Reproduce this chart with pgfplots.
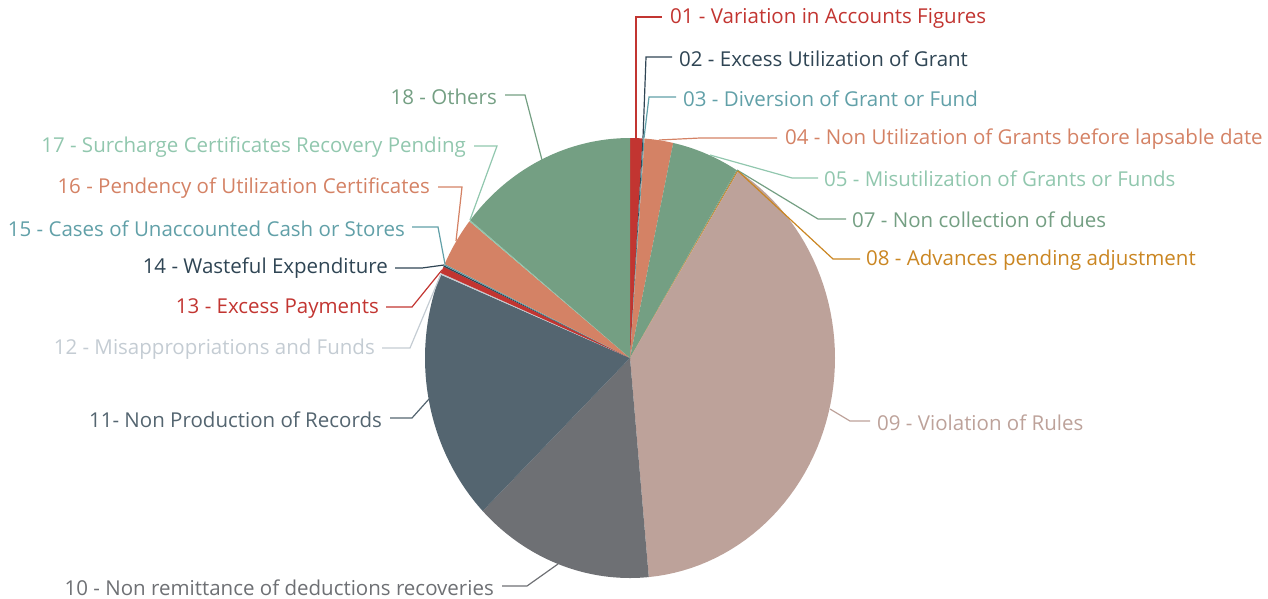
\documentclass[border=0pt]{standalone}
\usepackage{pgfplots}
\pgfplotsset{compat=1.18}
\usepackage{pgfplotstable}
\usepackage{fontspec}
\setmainfont{Open Sans}
\definecolor{c1}{HTML}{C23531}
\definecolor{c2}{HTML}{2F4554}
\definecolor{c3}{HTML}{61A0A8}
\definecolor{c4}{HTML}{D48265}
\definecolor{c5}{HTML}{91C7AE}
\definecolor{c6}{HTML}{749F83}
\definecolor{c7}{HTML}{CA8622}
\definecolor{c8}{HTML}{BDA29A}
\definecolor{c9}{HTML}{6E7074}
\definecolor{c10}{HTML}{546570}
\definecolor{c11}{HTML}{C4CCD3}
\newcommand\lab{\fontsize{20.5}{24}\selectfont}
% share of each category in percent
\pgfplotstableread{
id  share  fillc
01  0.97   c1
02  0.08   c2
03  0.08   c3
04  2.25   c4
05  5.31   c6
07  0.08   c6
08  0.08   c7
09  39.69  c8
10  14.22  c9
11  18.44  c10
12  0.11   c11
13  0.50   c1
14  0.11   c2
15  0.11   c3
16  3.64   c4
17  0.11   c5
18  14.22  c6
}\shares
\begin{document}
\begin{tikzpicture}
\begin{axis}[
  scale only axis, width=1268pt, height=598pt,
  xmin=0, xmax=1268, ymin=0, ymax=598, y dir=reverse,
  hide axis, clip=false]
\gdef\startA{0}
\pgfplotsforeachungrouped \i in {0,...,16}{%
  \pgfplotstablegetelem{\i}{share}\of\shares \let\v\pgfplotsretval
  \pgfplotstablegetelem{\i}{fillc}\of\shares \let\fc\pgfplotsretval
  \pgfmathsetmacro\endA{\startA+3.6*\v}%
  \edef\temp{\noexpand\addplot[draw=none, fill=\fc, domain=\startA:\endA, samples=60, variable=\noexpand\t] ({630+205*sin(\noexpand\t)},{358-220*cos(\noexpand\t)}) -- (axis cs:630,358) -- cycle;}%
  \temp
  \xdef\startA{\endA}%
}
% leader lines
\addplot[c1, line width=1.2pt] coordinates {(636,138)(636,17)(662,17)};
\addplot[c2, line width=1.2pt] coordinates {(643,138)(646,57)(672,57)};
\addplot[c3, line width=1.2pt] coordinates {(644,138)(649,97)(676,97)};
\addplot[c4, line width=1.2pt] coordinates {(659,140)(700,138)(777,138)};
\addplot[c5, line width=1.2pt] coordinates {(710,155)(792,178)(818,178)};
\addplot[c6, line width=1.2pt] coordinates {(737,170)(818,219)(846,219)};
\addplot[c7, line width=1.2pt] coordinates {(738,171)(833,259)(860,259)};
\addplot[c8, line width=1.2pt] coordinates {(830,409)(850,421)(870,421)};
\addplot[c9, line width=1.2pt] coordinates {(558,564)(527,586)(502,586)};
\addplot[c10, line width=1.2pt] coordinates {(429,399)(412,418)(390,418)};
\addplot[c11, line width=1.2pt] coordinates {(441,274)(410,348)(382,348)};
\addplot[c1, line width=1.2pt] coordinates {(442,270)(412,307)(386,307)};
\addplot[c2, line width=1.2pt] coordinates {(444,265)(422,268)(395,268)};
\addplot[c3, line width=1.2pt] coordinates {(445,264)(438,227)(412,227)};
\addplot[c4, line width=1.2pt] coordinates {(456,241)(462,187)(438,187)};
\addplot[c5, line width=1.2pt] coordinates {(470,220)(497,146)(474,146)};
\addplot[c6, line width=1.2pt] coordinates {(542,160)(525,95)(505,95)};
% labels
\tikzset{lbl/.style={inner sep=0pt, font=\lab}}
\node[lbl, anchor=west, text=c1] at (axis cs:670,18.5) {01 - Variation in Accounts Figures};
\node[lbl, anchor=west, text=c2] at (axis cs:679,58.5) {02 - Excess Utilization of Grant};
\node[lbl, anchor=west, text=c3] at (axis cs:683,98.5) {03 - Diversion of Grant or Fund};
\node[lbl, anchor=west, text=c4] at (axis cs:785,139.5) {04 - Non Utilization of Grants before lapsable date};
\node[lbl, anchor=west, text=c5] at (axis cs:824,178.5) {05 - Misutilization of Grants or Funds};
\node[lbl, anchor=west, text=c6] at (axis cs:852,219.5) {07 - Non collection of dues};
\node[lbl, anchor=west, text=c7] at (axis cs:866,260.5) {08 - Advances pending adjustment};
\node[lbl, anchor=west, text=c8] at (axis cs:877,422.5) {09 - Violation of Rules};
\node[lbl, anchor=east, text=c9] at (axis cs:494,587.5) {10 - Non remittance of deductions recoveries};
\node[lbl, anchor=east, text=c10] at (axis cs:382,419.5) {11- Non Production of Records};
\node[lbl, anchor=east, text=c11] at (axis cs:375,349.5) {12 - Misappropriations and Funds};
\node[lbl, anchor=east, text=c1] at (axis cs:379,308.5) {13 - Excess Payments};
\node[lbl, anchor=east, text=c2] at (axis cs:388,268.5) {14 - Wasteful Expenditure};
\node[lbl, anchor=east, text=c3] at (axis cs:405,228.5) {15 - Cases of Unaccounted Cash or Stores};
\node[lbl, anchor=east, text=c4] at (axis cs:430,188.5) {16 - Pendency of Utilization Certificates};
\node[lbl, anchor=east, text=c5] at (axis cs:466,147.5) {17 - Surcharge Certificates Recovery Pending};
\node[lbl, anchor=east, text=c6] at (axis cs:497,96.5) {18 - Others};
\end{axis}
\pgfresetboundingbox
\path[use as bounding box] (current axis.south west) rectangle (current axis.north east);
\end{tikzpicture}
\end{document}
